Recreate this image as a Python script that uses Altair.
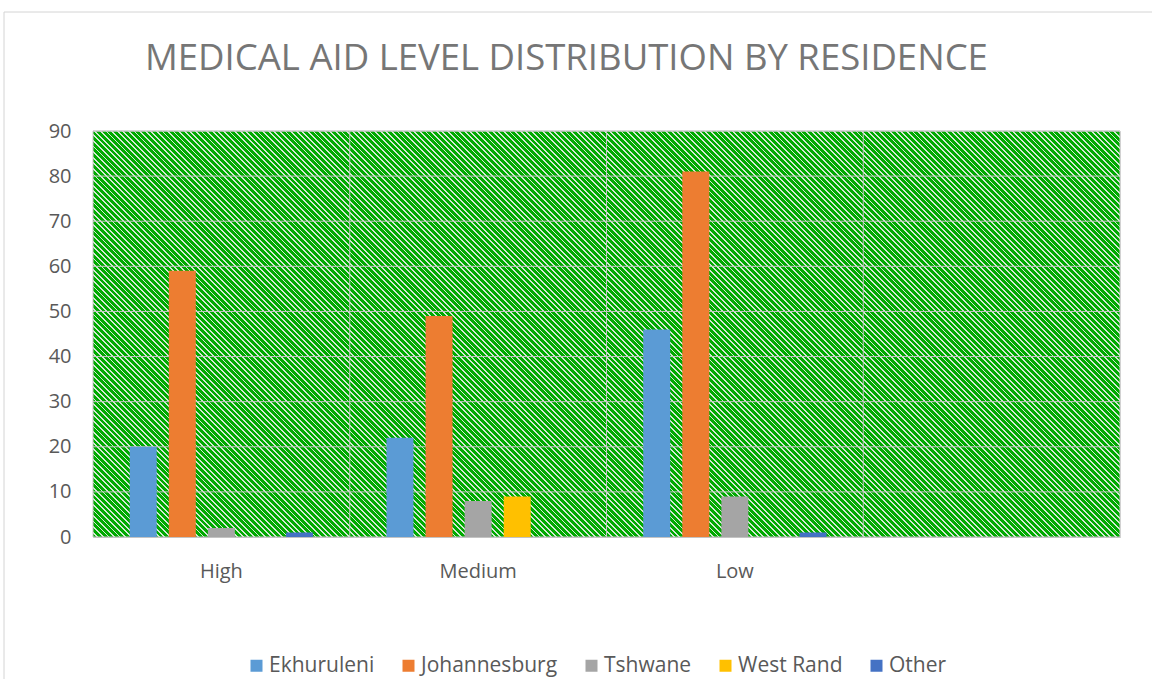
import altair as alt
import pandas as pd

# Medical aid level per residence region
levels = ["High", "Medium", "Low"]
axis_slots = ["High", "Medium", "Low", " "]
regions = ["Ekhuruleni", "Johannesburg", "Tshwane", "West Rand", "Other"]
ekhuruleni = [20, 22, 46]
johannesburg = [59, 49, 81]
tshwane = [2, 8, 9]
west_rand = [0, 9, 0]
other = [1, 0, 1]
region_colors = ["#5B9BD5", "#ED7D31", "#A5A5A5", "#FFC000", "#4472C4"]
y_ticks = list(range(0, 100, 10))

series = [ekhuruleni, johannesburg, tshwane, west_rand, other]
rows = []
for region, vals in zip(regions, series):
    for level, v in zip(levels, vals):
        rows.append({"level": level, "region": region, "value": v})
bars_df = pd.DataFrame(rows)

W, H = 1027, 406
FONT = "Open Sans"
LABEL_GRAY = "#595959"
GRID_GRAY = "#c8c8c8"

# Diagonal hatch for the plot area, built as a hard-stop linear gradient
GREEN = "#00aa00"
STRIPE = "#d3e8d3"
period_px = 5.6
n = round((W + H) / period_px)
stops = []
for i in range(n):
    a = i / n
    b = (i + 0.68) / n
    c = (i + 1) / n
    stops += [
        alt.GradientStop(offset=a, color=GREEN),
        alt.GradientStop(offset=b, color=GREEN),
        alt.GradientStop(offset=b, color=STRIPE),
        alt.GradientStop(offset=min(c, 1.0), color=STRIPE),
    ]
k = (W + H) / (W ** 2 + H ** 2)
hatch = alt.LinearGradient(
    gradient="linear", stops=stops, x1=0, y1=1, x2=k * W, y2=1 - k * H
)

xscale = alt.Scale(domain=axis_slots, paddingInner=0, paddingOuter=0)
yscale = alt.Scale(domain=[0, 90], nice=False)
xaxis = alt.Axis(
    title=None, ticks=False, domain=True, domainColor="#bfbfbf", grid=False,
    labelFont=FONT, labelFontSize=20, labelColor=LABEL_GRAY, labelPadding=24,
    labelAngle=0,
)
yaxis = alt.Axis(
    title=None, ticks=False, domain=False, grid=False, values=y_ticks,
    labelFont=FONT, labelFontSize=20, labelColor=LABEL_GRAY, labelPadding=22,
)

bg = alt.Chart(pd.DataFrame({"p": [0]})).mark_rect(
    fill=hatch, stroke=GRID_GRAY, strokeWidth=1
).encode(x=alt.value(0), x2=alt.value(W), y=alt.value(0), y2=alt.value(H))

hgrid = alt.Chart(pd.DataFrame({"value": y_ticks[1:]})).mark_rule(
    color=GRID_GRAY, strokeWidth=1
).encode(y=alt.Y("value:Q", scale=yscale, axis=yaxis))

vgrid = alt.Chart(pd.DataFrame({"level": axis_slots[1:]})).mark_rule(
    color=GRID_GRAY, strokeWidth=1
).encode(x=alt.X("level:N", scale=xscale, axis=xaxis, bandPosition=0))

bars = alt.Chart(bars_df).mark_bar().encode(
    x=alt.X("level:N", scale=xscale, axis=xaxis),
    xOffset=alt.XOffset(
        "region:N",
        scale=alt.Scale(domain=regions, paddingInner=0.31, paddingOuter=0.94),
    ),
    y=alt.Y("value:Q", scale=yscale, axis=yaxis),
    color=alt.Color(
        "region:N",
        scale=alt.Scale(domain=regions, range=region_colors),
        legend=alt.Legend(
            title=None, orient="none", direction="horizontal",
            legendX=153, legendY=524, symbolType="square", symbolSize=144,
            symbolStrokeWidth=0, labelFont=FONT, labelFontSize=21,
            labelColor=LABEL_GRAY, labelOffset=2, columnPadding=23,
        ),
    ),
)

# Outer chart border (top and left edges fall inside the page)
frame = alt.Chart(pd.DataFrame({"p": [0]})).mark_rect(
    filled=False, stroke="#d4d4d4", strokeWidth=1
).encode(
    x=alt.value(-89), y=alt.value(-119), x2=alt.value(W + 300), y2=alt.value(H + 400)
)

chart = alt.layer(bg, hgrid, vgrid, bars, frame).properties(
    width=W,
    height=H,
    autosize=alt.AutoSizeParams(type="none"),
    padding={"left": 93, "top": 131, "right": 32, "bottom": 142},
    title=alt.TitleParams(
        "MEDICAL AID LEVEL DISTRIBUTION BY RESIDENCE",
        font=FONT, fontSize=36.5, fontWeight="normal", color="#767676",
        anchor="start", frame="group", dx=52, offset=-66,
    ),
).configure_view(strokeWidth=0).configure(background="white")

chart.save("out.html", embed_options={"renderer": "svg", "actions": False})
